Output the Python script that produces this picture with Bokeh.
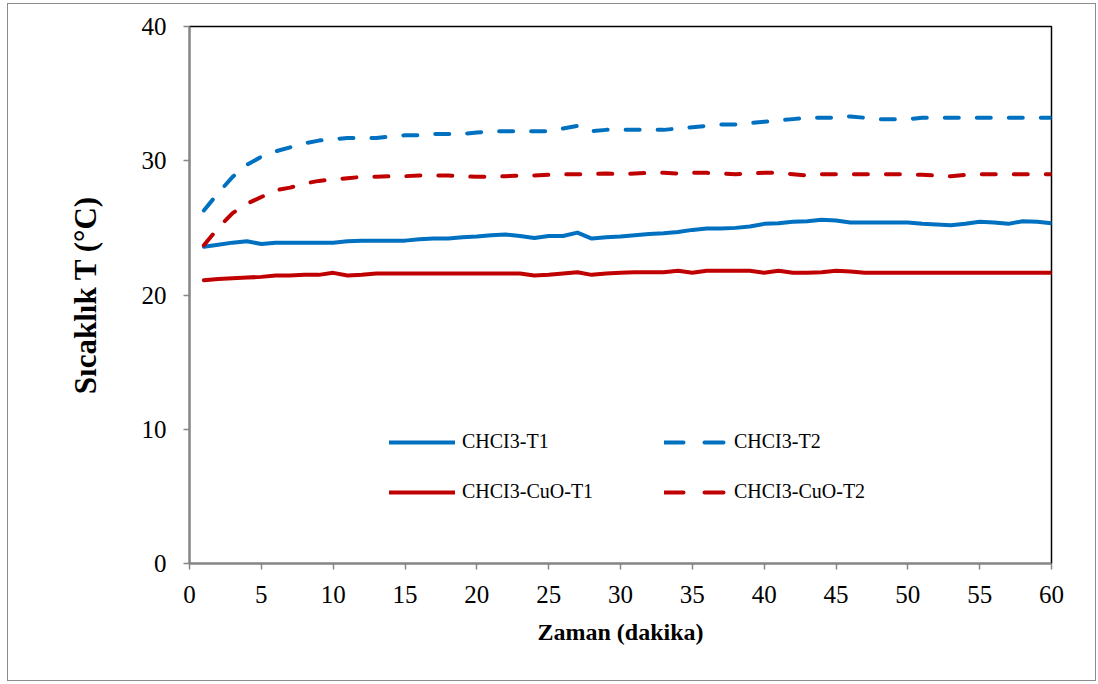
from bokeh.plotting import figure
from bokeh.models import Range1d, Legend, LegendItem, FixedTicker
from bokeh.embed import file_html
from bokeh.resources import INLINE

minutes = list(range(1, 61))

chcl3_t1 = [23.6, 23.75, 23.9, 24.0, 23.8, 23.9, 23.9, 23.9, 23.9, 23.9,
            24.0, 24.05, 24.05, 24.05, 24.05, 24.15, 24.2, 24.2, 24.3, 24.35,
            24.45, 24.5, 24.4, 24.25, 24.4, 24.4, 24.65, 24.2, 24.3, 24.35,
            24.45, 24.55, 24.6, 24.7, 24.85, 24.95, 24.95, 25.0, 25.1, 25.3,
            25.35, 25.45, 25.5, 25.6, 25.55, 25.4, 25.4, 25.4, 25.4, 25.4,
            25.3, 25.25, 25.2, 25.3, 25.45, 25.4, 25.3, 25.5, 25.45, 25.35]

chcl3_t2 = [26.3, 27.6, 28.8, 29.7, 30.3, 30.7, 31.0, 31.3, 31.5, 31.6,
            31.7, 31.7, 31.7, 31.8, 31.9, 31.9, 32.0, 32.0, 32.0, 32.1,
            32.2, 32.2, 32.2, 32.2, 32.2, 32.4, 32.6, 32.2, 32.3, 32.3,
            32.3, 32.3, 32.3, 32.4, 32.5, 32.6, 32.7, 32.7, 32.8, 32.9,
            33.0, 33.1, 33.2, 33.2, 33.2, 33.3, 33.2, 33.1, 33.1, 33.1,
            33.2, 33.2, 33.2, 33.2, 33.2, 33.2, 33.2, 33.2, 33.2, 33.2]

cuo_t1 = [21.1, 21.2, 21.25, 21.3, 21.35, 21.45, 21.45, 21.5, 21.5, 21.65,
          21.45, 21.5, 21.6, 21.6, 21.6, 21.6, 21.6, 21.6, 21.6, 21.6,
          21.6, 21.6, 21.6, 21.45, 21.5, 21.6, 21.7, 21.5, 21.6, 21.65,
          21.7, 21.7, 21.7, 21.8, 21.65, 21.8, 21.8, 21.8, 21.8, 21.65,
          21.8, 21.65, 21.65, 21.7, 21.8, 21.75, 21.65, 21.65, 21.65, 21.65,
          21.65, 21.65, 21.65, 21.65, 21.65, 21.65, 21.65, 21.65, 21.65, 21.65]

cuo_t2 = [23.7, 25.0, 26.1, 26.8, 27.3, 27.8, 28.0, 28.3, 28.5, 28.6,
          28.7, 28.8, 28.8, 28.85, 28.85, 28.9, 28.9, 28.9, 28.85, 28.8,
          28.8, 28.85, 28.9, 28.9, 28.95, 29.0, 29.0, 29.0, 29.05, 29.0,
          29.05, 29.1, 29.1, 29.05, 29.1, 29.1, 29.05, 29.0, 29.05, 29.1,
          29.1, 29.0, 28.9, 29.0, 29.0, 29.0, 29.0, 29.0, 29.0, 29.0,
          28.95, 28.9, 28.85, 28.95, 29.0, 29.0, 29.0, 29.0, 29.0, 29.0]

x_ticks = list(range(0, 61, 5))
y_ticks = [0, 10, 20, 30, 40]
labels = ["CHCI3-T1", "CHCI3-CuO-T1", "CHCI3-T2", "CHCI3-CuO-T2"]

BLUE = "#0070C0"
RED = "#C00000"
FONT = "Liberation Serif"

p = figure(width=1089, height=678, output_backend="svg", toolbar_location=None,
           x_range=Range1d(0, 60), y_range=Range1d(0, 40),
           min_border_left=181, min_border_right=46, min_border_top=22,
           min_border_bottom=119)
p.styles = {"border": "1px solid #8c8c8c", "margin": "3px 0px 0px 7px"}
p.xgrid.visible = False
p.ygrid.visible = False
p.outline_line_color = "black"
p.outline_line_width = 1.5

common = dict(line_width=4, line_cap="round", line_join="round")
r1 = p.line(minutes, chcl3_t1, line_color=BLUE, **common)
r2 = p.line(minutes, chcl3_t2, line_color=BLUE, line_dash="14 18", **common)
r3 = p.line(minutes, cuo_t1, line_color=RED, **common)
r4 = p.line(minutes, cuo_t2, line_color=RED, line_dash="14 18", **common)

# legend-only renderers (single point, draws nothing) for the legend's dash look
l2 = p.line(minutes[:1], chcl3_t2[:1], line_color=BLUE, line_dash="19 21", **common)
l4 = p.line(minutes[:1], cuo_t2[:1], line_color=RED, line_dash="19 21", **common)

for ax in (p.xaxis[0], p.yaxis[0]):
    ax.axis_line_color = "#868686"
    ax.axis_line_width = 2
    ax.major_tick_line_color = "#868686"
    ax.major_tick_line_width = 1.5
    ax.major_tick_in = 0
    ax.major_tick_out = 6
    ax.minor_tick_line_color = None
    ax.major_label_text_font = FONT
    ax.major_label_text_font_size = "25px"
    ax.major_label_text_color = "black"
    ax.axis_label_text_font = FONT
    ax.axis_label_text_font_style = "bold"
    ax.axis_label_text_color = "black"

p.xaxis.ticker = FixedTicker(ticks=x_ticks)
p.yaxis.ticker = FixedTicker(ticks=y_ticks)
p.xaxis.axis_label = "Zaman (dakika)"
p.xaxis.axis_label_text_font_size = "24px"
p.xaxis.major_label_standoff = 16
p.xaxis.axis_label_standoff = 13
p.yaxis.axis_label = "Sıcaklık T (°C)"
p.yaxis.axis_label_text_font_size = "31px"
p.yaxis.major_label_standoff = 17
p.yaxis.axis_label_standoff = 36


def make_legend(items, loc, gw):
    lg = Legend(items=items, location=loc, orientation="vertical")
    lg.border_line_color = None
    lg.background_fill_alpha = 0
    lg.padding = 0
    lg.margin = 0
    lg.glyph_width = gw
    lg.glyph_height = 20
    lg.label_standoff = 7
    lg.spacing = 27
    lg.label_text_font = FONT
    lg.label_text_font_size = "20px"
    lg.label_text_color = "black"
    return lg


leg1 = make_legend([LegendItem(label=labels[0], renderers=[r1]),
                    LegendItem(label=labels[1], renderers=[r3])], (200, 60), 66)
leg2 = make_legend([LegendItem(label=labels[2], renderers=[l2]),
                    LegendItem(label=labels[3], renderers=[l4])], (475, 60), 63)
p.add_layout(leg1, "center")
p.add_layout(leg2, "center")

open("out.html", "w").write(file_html(p, INLINE))
